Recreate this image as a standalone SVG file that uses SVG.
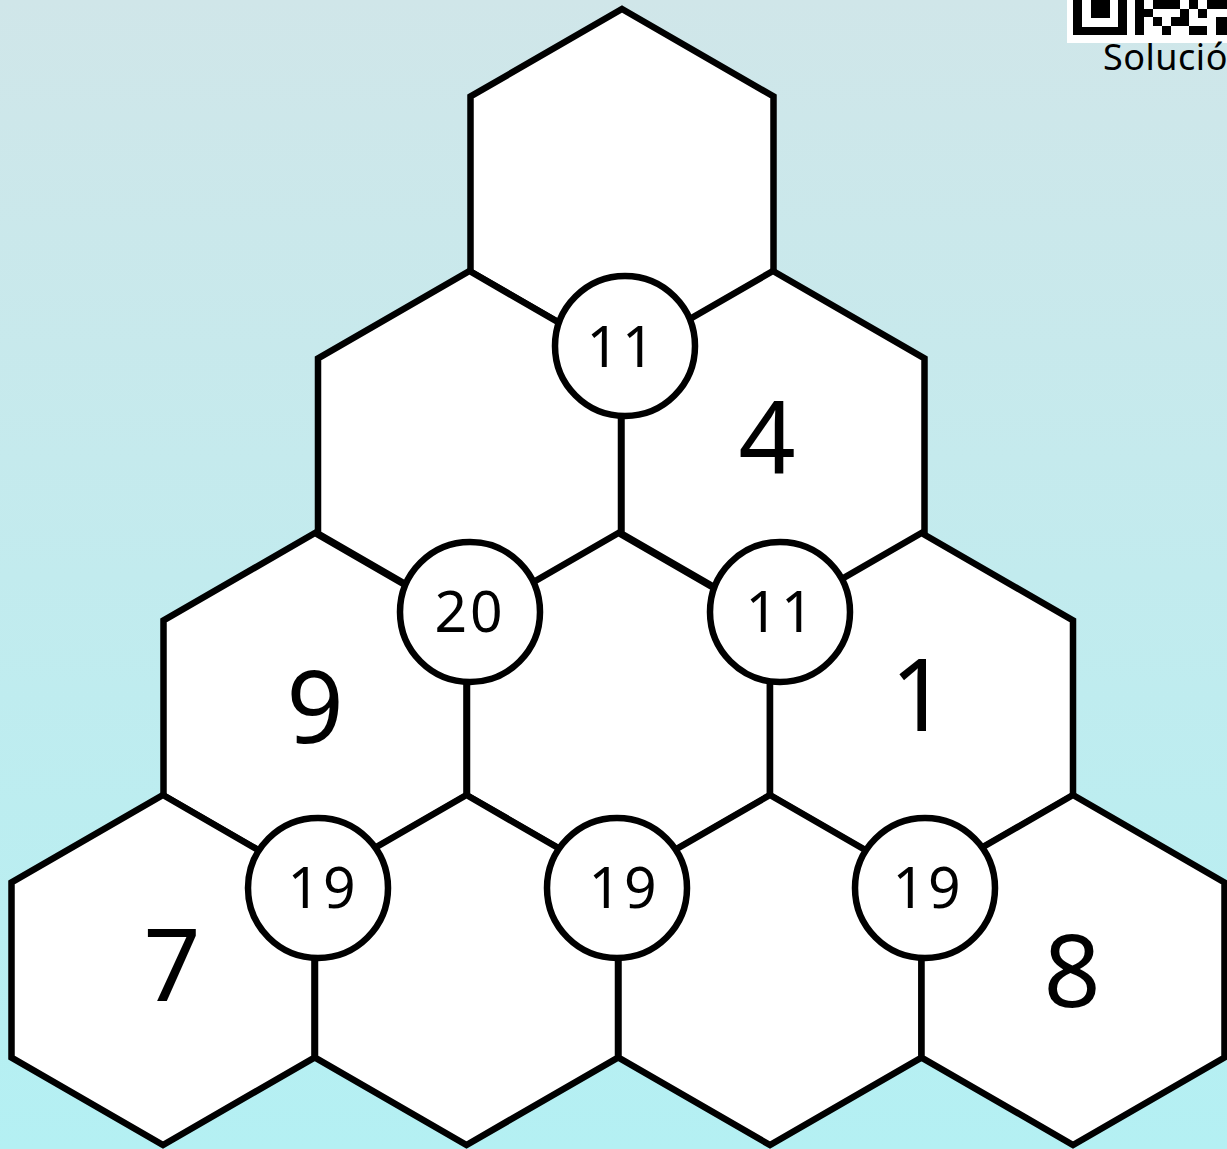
<svg xmlns="http://www.w3.org/2000/svg" width="1227" height="1149" viewBox="0 0 1227 1149">
  <defs>
    <linearGradient id="bg" x1="0" y1="0" x2="0" y2="1">
      <stop offset="0" stop-color="#d0e6e9"/>
      <stop offset="1" stop-color="#b4f0f3"/>
    </linearGradient>
    <path id="hex" d="M0,-175 L151.5,-87.5 L151.5,87.5 L0,175 L-151.5,87.5 L-151.5,-87.5 Z"/>
  </defs>
  <style>
    .hex { fill: #ffffff; stroke: #000000; stroke-width: 6.5; stroke-linejoin: miter; }
    .circ { fill: #ffffff; stroke: #000000; stroke-width: 6.5; }
    .big { font-family: "Noto Sans", "Open Sans", sans-serif; font-size: 100px; fill: #000000; text-anchor: middle; }
    .small { font-family: "Noto Sans", "Open Sans", sans-serif; font-size: 57px; letter-spacing: 3px; fill: #000000; text-anchor: middle; }
    .label { font-family: "Noto Sans", "Open Sans", sans-serif; font-size: 36px; letter-spacing: 0.5px; fill: #000000; }
  </style>
  <rect x="0" y="0" width="1227" height="1149" fill="url(#bg)"/>

  <g id="qr">
    <rect x="1067" y="0" width="160" height="43" fill="#ffffff"/>
    <rect x="1073" y="0" width="54" height="35" fill="#000"/>
    <rect x="1082" y="0" width="36" height="27" fill="#fff"/>
    <rect x="1091" y="0" width="19" height="18" fill="#000"/>
    <rect x="1135" y="0" width="9" height="35" fill="#000"/>
    <rect x="1144" y="9" width="9" height="8" fill="#000"/>
    <rect x="1153" y="0" width="9" height="9" fill="#000"/>
    <rect x="1153" y="17" width="9" height="9" fill="#000"/>
    <rect x="1162" y="0" width="18" height="9" fill="#000"/>
    <rect x="1162" y="26" width="9" height="9" fill="#000"/>
    <rect x="1171" y="17" width="9" height="9" fill="#000"/>
    <rect x="1180" y="9" width="9" height="17" fill="#000"/>
    <rect x="1189" y="0" width="9" height="9" fill="#000"/>
    <rect x="1189" y="26" width="18" height="9" fill="#000"/>
    <rect x="1198" y="9" width="9" height="9" fill="#000"/>
    <rect x="1207" y="0" width="20" height="9" fill="#000"/>
    <rect x="1216" y="17" width="11" height="18" fill="#000"/>
    <text class="label" x="1103" y="70">Solució</text>
  </g>

  <g id="hexagons">
    <g id="hex-r1-1"><use href="#hex" class="hex" x="622" y="184"/></g>
    <g id="hex-r2-1"><use href="#hex" class="hex" x="469.5" y="446"/></g>
    <g id="hex-r2-2"><use href="#hex" class="hex" x="773" y="446"/><text class="big" x="767" y="473">4</text></g>
    <g id="hex-r3-1"><use href="#hex" class="hex" x="315" y="708"/><text class="big" x="315" y="743">9</text></g>
    <g id="hex-r3-2"><use href="#hex" class="hex" x="618.5" y="708"/></g>
    <g id="hex-r3-3"><use href="#hex" class="hex" x="921.5" y="708"/><text class="big" x="919" y="731">1</text></g>
    <g id="hex-r4-1"><use href="#hex" class="hex" x="163" y="970"/><text class="big" x="172" y="1001">7</text></g>
    <g id="hex-r4-2"><use href="#hex" class="hex" x="466.5" y="970"/></g>
    <g id="hex-r4-3"><use href="#hex" class="hex" x="770" y="970"/></g>
    <g id="hex-r4-4"><use href="#hex" class="hex" x="1073" y="970"/><text class="big" x="1072" y="1007">8</text></g>
  </g>

  <g id="sums">
    <g id="sum-1"><circle class="circ" cx="625" cy="346" r="70"/><text class="small" x="622" y="367">11</text></g>
    <g id="sum-2"><circle class="circ" cx="470" cy="612" r="70"/><text class="small" x="470" y="632">20</text></g>
    <g id="sum-3"><circle class="circ" cx="780" cy="612" r="70"/><text class="small" x="781" y="632">11</text></g>
    <g id="sum-4"><circle class="circ" cx="318" cy="888" r="70"/><text class="small" x="323" y="908">19</text></g>
    <g id="sum-5"><circle class="circ" cx="617" cy="888" r="70"/><text class="small" x="624" y="908">19</text></g>
    <g id="sum-6"><circle class="circ" cx="925" cy="888" r="70"/><text class="small" x="928" y="908">19</text></g>
  </g>
</svg>
